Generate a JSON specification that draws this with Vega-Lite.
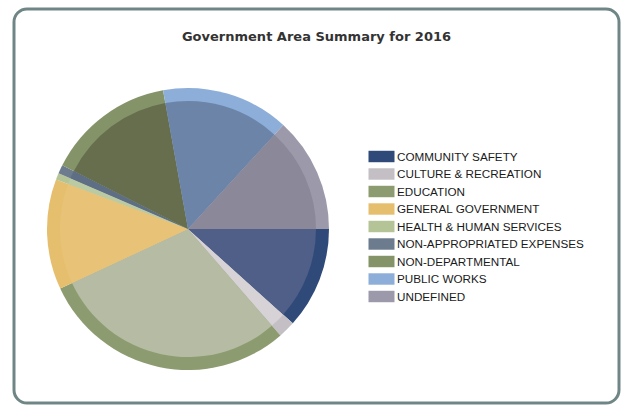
{
  "$schema": "https://vega.github.io/schema/vega-lite/v6.json",
  "width": 627,
  "height": 409,
  "autosize": {"type": "fit", "contains": "padding"},
  "padding": {"left": 12, "top": 7, "right": 6, "bottom": 4},
  "background": "white",
  "config": {
    "view": {"stroke": null}
  },
  "title": {
    "text": "Government Area Summary for 2016",
    "font": "DejaVu Sans",
    "fontSize": 13,
    "fontWeight": "bold",
    "color": "#333333",
    "anchor": "middle",
    "frame": "group",
    "offset": -36
  },
  "data": {
    "values": [
      {"area": "COMMUNITY SAFETY", "value": 42},
      {"area": "CULTURE & RECREATION", "value": 7},
      {"area": "EDUCATION", "value": 106},
      {"area": "GENERAL GOVERNMENT", "value": 45.6},
      {"area": "HEALTH & HUMAN SERVICES", "value": 2.7},
      {"area": "NON-APPROPRIATED EXPENSES", "value": 3.6},
      {"area": "NON-DEPARTMENTAL", "value": 52.9},
      {"area": "PUBLIC WORKS", "value": 52.7},
      {"area": "UNDEFINED", "value": 47.5}
    ]
  },
  "layer": [
    {
      "data": {"values": [{"frame": 1}]},
      "mark": {"type": "rect", "fill": "white", "stroke": "#708686", "strokeWidth": 3, "cornerRadius": 13},
      "encoding": {}
    },
    {
      "mark": {"type": "arc", "outerRadius": 141, "x": 174, "y": 220},
      "encoding": {
        "theta": {"field": "value", "type": "quantitative", "stack": true, "scale": {"range": [1.5707963, 7.8539816]}},
        "color": {
          "field": "area",
          "type": "nominal",
          "scale": {
            "domain": ["COMMUNITY SAFETY", "CULTURE & RECREATION", "EDUCATION", "GENERAL GOVERNMENT", "HEALTH & HUMAN SERVICES", "NON-APPROPRIATED EXPENSES", "NON-DEPARTMENTAL", "PUBLIC WORKS", "UNDEFINED"],
            "range": ["#2f4a78", "#c4bfc4", "#8d9c70", "#e6bf6e", "#b5c496", "#6c7b8e", "#849468", "#8daed8", "#9c99ab"]
          },
          "legend": {
            "title": null,
            "orient": "none",
            "legendX": 361,
            "legendY": 141,
            "symbolType": "M-2,-0.88H2V0.88H-2Z",
            "symbolSize": 169,
            "symbolStrokeWidth": 0,
            "symbolOpacity": 1,
            "labelFont": "Liberation Sans",
            "labelFontSize": 11.7,
            "labelColor": "#1a1a1a",
            "labelOffset": 9,
            "rowPadding": 3.5,
            "labelLimit": 300
          }
        }
      }
    },
    {
      "mark": {"type": "arc", "outerRadius": 128, "x": 174, "y": 220},
      "encoding": {
        "theta": {"field": "value", "type": "quantitative", "stack": true, "scale": {"range": [1.5707963, 7.8539816]}},
        "color": {
          "field": "area",
          "type": "nominal",
          "scale": {
            "domain": ["COMMUNITY SAFETY", "CULTURE & RECREATION", "EDUCATION", "GENERAL GOVERNMENT", "HEALTH & HUMAN SERVICES", "NON-APPROPRIATED EXPENSES", "NON-DEPARTMENTAL", "PUBLIC WORKS", "UNDEFINED"],
            "range": ["#4f5f87", "#d6d2d6", "#b6bca4", "#e8c277", "#bacaa2", "#5e6e84", "#666e4e", "#6c84a8", "#8a8899"]
          },
          "legend": null
        }
      }
    }
  ],
  "resolve": {"scale": {"color": "independent"}}
}
